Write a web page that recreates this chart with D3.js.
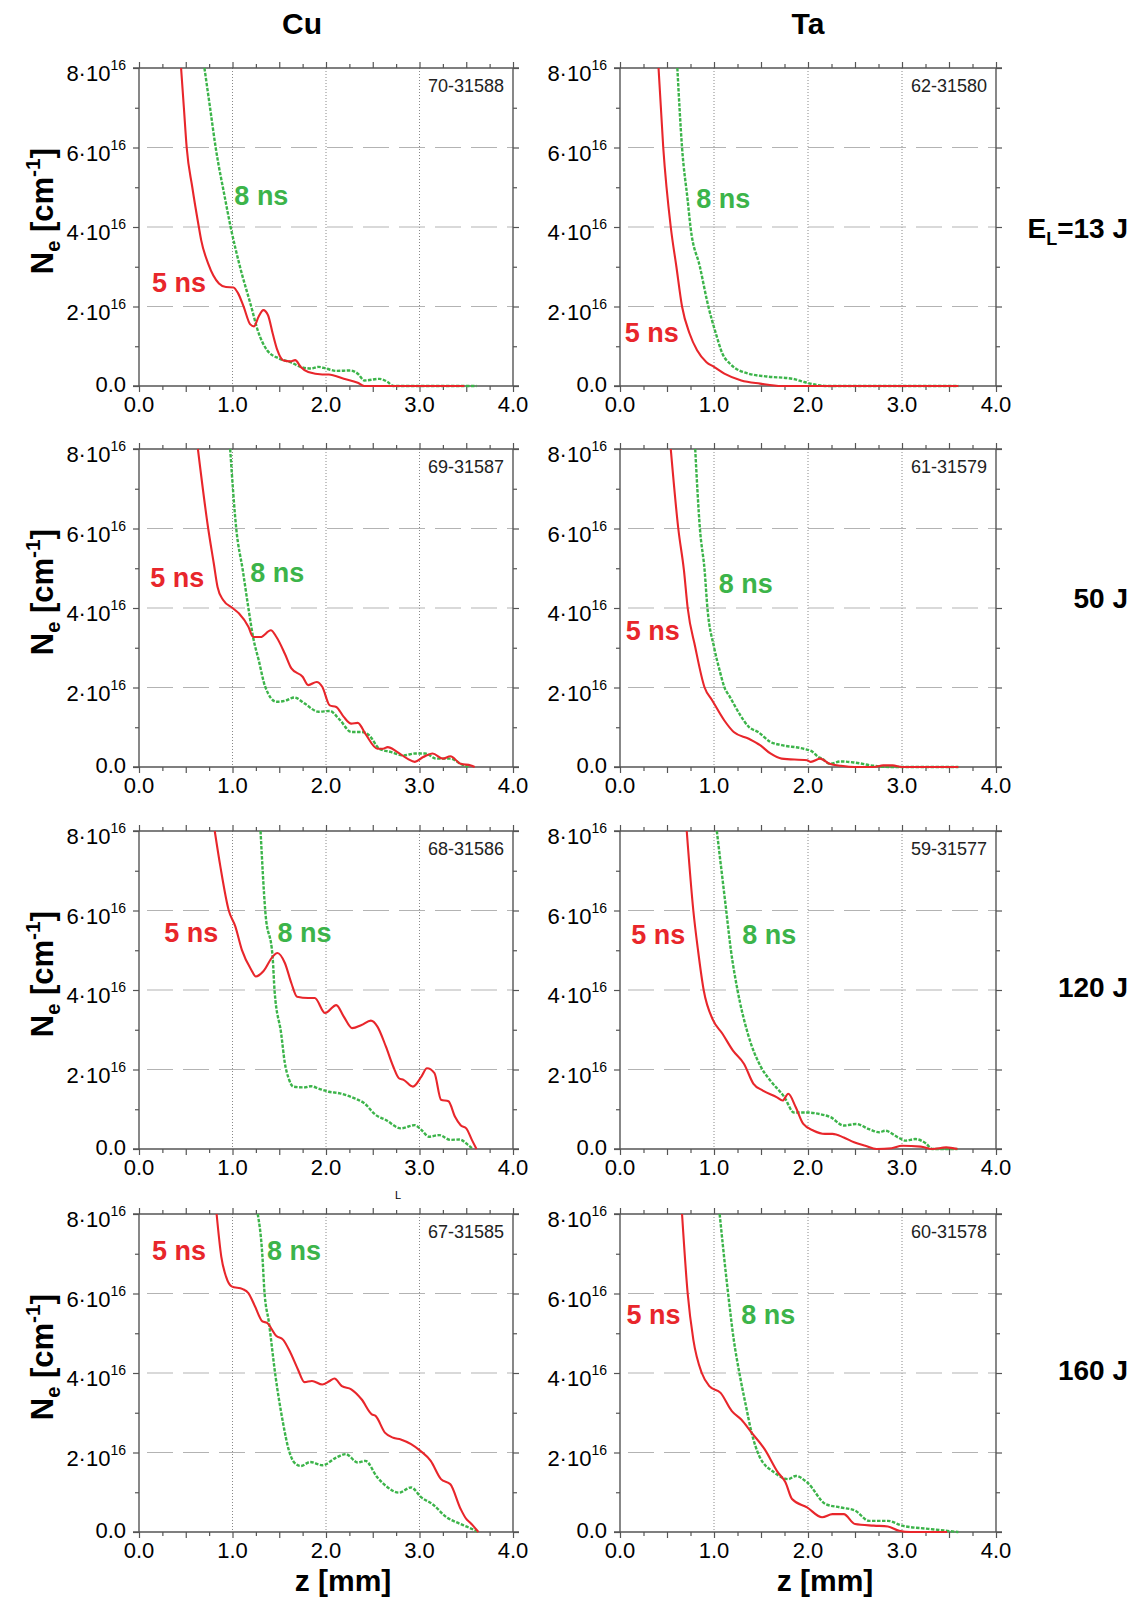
<!DOCTYPE html>
<html>
<meta charset="utf-8">
<script src="https://d3js.org/d3.v7.min.js"></script>
<style>
body { margin: 0; background: #fff; }
svg text { font-family: "Liberation Sans", Arial, sans-serif; }
.frame line { stroke: #555; stroke-width: 1.4; }
.tick line { stroke: #555; stroke-width: 1.2; }
.grid-v { stroke: #888; stroke-width: 1; stroke-dasharray: 1,2; }
.grid-h { stroke: #b3b3b3; stroke-width: 1; stroke-dasharray: 26,10; }
</style>
<body>
<script>
// electron density Ne [1e16 cm^-1] vs z [mm], pairs [z, Ne]
var cu13_5 = [[0.45,8],[0.48,7],[0.51,6],[0.57,5],[0.64,4],[0.665,3.67],[0.74,3.08],[0.855,2.58],[0.93,2.49],[1.01,2.48],[1.06,2.33],[1.12,1.99],[1.19,1.55],[1.23,1.50],[1.28,1.75],[1.33,1.91],[1.38,1.78],[1.43,1.32],[1.48,0.90],[1.54,0.65],[1.62,0.62],[1.67,0.65],[1.73,0.48],[1.81,0.35],[1.96,0.29],[2.03,0.29],[2.19,0.18],[2.34,0.08],[2.41,0],[3.48,0]];
var cu13_8 = [[0.70,8],[0.76,7],[0.82,6],[0.92,4.72],[0.98,4],[1.08,3.0],[1.20,2.0],[1.27,1.40],[1.37,0.90],[1.50,0.69],[1.62,0.60],[1.73,0.48],[1.84,0.44],[1.92,0.48],[2.00,0.44],[2.11,0.38],[2.26,0.39],[2.34,0.31],[2.41,0.14],[2.57,0.18],[2.66,0.10],[2.72,0],[3.61,0]];
var ta13_5 = [[0.41,8],[0.46,6],[0.54,4],[0.60,3],[0.66,2],[0.74,1.32],[0.82,0.9],[0.92,0.6],[1.0,0.48],[1.11,0.31],[1.29,0.14],[1.49,0.06],[1.72,0],[3.6,0]];
var ta13_8 = [[0.61,8],[0.66,6],[0.72,4.67],[0.75,4],[0.85,3.0],[0.94,2.0],[1.02,1.32],[1.09,0.81],[1.17,0.56],[1.37,0.31],[1.56,0.24],[1.84,0.18],[1.96,0.10],[2.11,0.02],[2.2,0],[3.6,0]];

var cu50_5 = [[0.63,8],[0.74,6],[0.80,5.12],[0.84,4.53],[0.90,4.2],[1.0,4.0],[1.07,3.86],[1.17,3.53],[1.22,3.27],[1.30,3.27],[1.41,3.44],[1.47,3.27],[1.56,2.85],[1.63,2.48],[1.75,2.27],[1.81,2.06],[1.90,2.14],[1.96,2.02],[2.04,1.55],[2.11,1.51],[2.19,1.26],[2.27,1.09],[2.34,1.11],[2.42,0.84],[2.55,0.46],[2.61,0.46],[2.66,0.5],[2.76,0.38],[2.87,0.21],[2.95,0.13],[3.04,0.25],[3.14,0.34],[3.25,0.21],[3.33,0.27],[3.44,0.08],[3.55,0.04],[3.59,0]];
var cu50_8 = [[0.975,8],[1.04,6],[1.11,4.95],[1.17,4.0],[1.22,3.27],[1.28,2.69],[1.35,2.02],[1.47,1.64],[1.58,1.68],[1.66,1.75],[1.77,1.6],[1.92,1.39],[2.04,1.41],[2.15,1.18],[2.27,0.88],[2.38,0.88],[2.46,0.8],[2.57,0.46],[2.69,0.38],[2.83,0.29],[2.95,0.34],[3.06,0.34],[3.18,0.21],[3.33,0.21],[3.44,0.08],[3.52,0]];
var ta50_5 = [[0.54,8],[0.62,6],[0.68,4.95],[0.72,4],[0.80,3.02],[0.90,2.0],[0.98,1.68],[1.11,1.17],[1.21,0.88],[1.37,0.71],[1.49,0.55],[1.60,0.34],[1.72,0.21],[1.99,0.17],[2.03,0.13],[2.13,0.21],[2.23,0.08],[2.35,0.03],[2.5,0],[2.7,0],[2.8,0.04],[2.9,0.04],[3.0,0],[3.6,0]];
var ta50_8 = [[0.80,8],[0.85,6],[0.90,4.95],[0.93,4],[1.0,3.02],[1.06,2.43],[1.11,2.01],[1.17,1.76],[1.27,1.34],[1.37,1.01],[1.47,0.88],[1.60,0.63],[1.72,0.55],[1.95,0.46],[2.05,0.38],[2.11,0.25],[2.15,0.21],[2.23,0.08],[2.35,0.14],[2.5,0.11],[2.7,0.03],[2.89,0],[3.6,0]];

var cu120_5 = [[0.81,8],[0.87,7.11],[0.96,6],[1.03,5.6],[1.10,5.01],[1.20,4.51],[1.25,4.34],[1.33,4.47],[1.43,4.84],[1.48,4.93],[1.56,4.68],[1.63,4.17],[1.69,3.83],[1.81,3.80],[1.88,3.80],[1.99,3.42],[2.11,3.62],[2.19,3.33],[2.28,3.04],[2.38,3.12],[2.48,3.23],[2.55,3.08],[2.64,2.58],[2.72,2.07],[2.78,1.78],[2.83,1.74],[2.93,1.57],[3.02,1.82],[3.08,2.03],[3.16,1.91],[3.23,1.24],[3.31,1.2],[3.38,0.81],[3.44,0.6],[3.50,0.52],[3.56,0.23],[3.61,0]];
var cu120_8 = [[1.30,8],[1.35,6],[1.43,4.8],[1.45,3.98],[1.52,2.91],[1.56,2.16],[1.60,1.78],[1.65,1.57],[1.77,1.55],[1.84,1.58],[1.92,1.52],[2.03,1.44],[2.15,1.4],[2.30,1.28],[2.41,1.15],[2.53,0.86],[2.64,0.73],[2.80,0.52],[2.95,0.6],[3.02,0.48],[3.10,0.31],[3.21,0.35],[3.33,0.23],[3.43,0.24],[3.52,0.1],[3.57,0]];
var ta120_5 = [[0.71,8],[0.78,6],[0.83,5.0],[0.89,4],[0.99,3.24],[1.09,2.9],[1.20,2.48],[1.32,2.14],[1.42,1.64],[1.52,1.47],[1.67,1.3],[1.73,1.22],[1.79,1.39],[1.87,1.05],[1.95,0.63],[2.06,0.46],[2.18,0.38],[2.26,0.38],[2.38,0.29],[2.49,0.17],[2.61,0.08],[2.73,0],[2.89,0.02],[3.0,0.08],[3.20,0.06],[3.32,0],[3.47,0.04],[3.59,0]];
var ta120_8 = [[1.03,8],[1.13,6],[1.18,5.0],[1.25,4],[1.36,2.9],[1.50,2.06],[1.60,1.72],[1.75,1.3],[1.85,0.92],[1.98,0.92],[2.12,0.88],[2.24,0.8],[2.38,0.59],[2.51,0.63],[2.65,0.5],[2.76,0.42],[2.82,0.46],[2.96,0.29],[3.04,0.21],[3.14,0.25],[3.26,0.13],[3.32,0],[3.59,0]];

var cu160_5 = [[0.83,8],[0.88,6.93],[0.93,6.43],[0.99,6.18],[1.11,6.11],[1.17,6.01],[1.24,5.68],[1.32,5.3],[1.37,5.26],[1.47,4.93],[1.54,4.84],[1.62,4.51],[1.70,4.09],[1.77,3.77],[1.85,3.8],[1.96,3.71],[2.04,3.8],[2.09,3.86],[2.17,3.67],[2.27,3.59],[2.38,3.34],[2.49,2.96],[2.53,2.92],[2.63,2.5],[2.72,2.37],[2.80,2.33],[2.91,2.21],[3.01,2.04],[3.12,1.79],[3.23,1.33],[3.33,1.2],[3.44,0.58],[3.50,0.33],[3.54,0.24],[3.63,0]];
var cu160_8 = [[1.27,8],[1.32,6.93],[1.34,6.1],[1.39,5.26],[1.46,3.92],[1.54,2.75],[1.60,2.08],[1.66,1.75],[1.73,1.66],[1.83,1.76],[1.96,1.68],[2.11,1.87],[2.21,1.96],[2.34,1.75],[2.42,1.79],[2.55,1.37],[2.64,1.16],[2.78,0.99],[2.91,1.12],[3.02,0.87],[3.14,0.7],[3.29,0.37],[3.40,0.24],[3.52,0.12],[3.63,0]];
var ta160_5 = [[0.66,8],[0.72,6],[0.78,4.84],[0.87,4],[0.95,3.67],[1.07,3.5],[1.19,3.04],[1.29,2.83],[1.40,2.5],[1.54,2.08],[1.68,1.5],[1.76,1.25],[1.83,0.83],[1.99,0.62],[2.15,0.37],[2.26,0.45],[2.38,0.45],[2.50,0.2],[2.70,0.16],[2.85,0.14],[2.97,0.03],[3.09,0],[3.48,0]];
var ta160_8 = [[1.06,8],[1.15,6],[1.21,4.84],[1.27,4],[1.34,3.17],[1.40,2.5],[1.48,1.92],[1.64,1.5],[1.79,1.33],[1.87,1.41],[1.99,1.25],[2.19,0.7],[2.34,0.62],[2.50,0.54],[2.65,0.28],[2.85,0.28],[3.0,0.16],[3.28,0.08],[3.60,0]];

var metals = ["Cu", "Ta"];
var energies = ["13 J", "50 J", "120 J", "160 J"];
var shotIds = [["70-31588", "62-31580"], ["69-31587", "61-31579"], ["68-31586", "59-31577"], ["67-31585", "60-31578"]];
var series5 = [[cu13_5, ta13_5], [cu50_5, ta50_5], [cu120_5, ta120_5], [cu160_5, ta160_5]];
var series8 = [[cu13_8, ta13_8], [cu50_8, ta50_8], [cu120_8, ta120_8], [cu160_8, ta160_8]];
var seriesNames = ["5 ns", "8 ns"];
// where the "5 ns" / "8 ns" labels sit, in data units [z, Ne]
var label5 = [[[0.14,2.36],[0.05,1.11]], [[0.12,4.53],[0.06,3.2]], [[0.27,5.21],[0.12,5.16]], [[0.14,6.84],[0.07,5.23]]];
var label8 = [[[1.02,4.55],[0.81,4.48]], [[1.19,4.65],[1.05,4.38]], [[1.48,5.21],[1.30,5.16]], [[1.37,6.84],[1.29,5.23]]];

var xLabelTicks = [0, 1, 2, 3, 4];
var xMajorTicks = [0, 0.5, 1, 1.5, 2, 2.5, 3, 3.5, 4];
var xMinorTicks = [0.25, 0.75, 1.25, 1.75, 2.25, 2.75, 3.25, 3.75];
var yLabelTicks = [0, 2, 4, 6, 8];
var yMinorTicks = [1, 3, 5, 7];
var xGrid = [1, 2, 3];
var yGrid = [2, 4, 6];

// layout
var colLeft = [139, 620], colWidth = [374, 376];
var rowTop = [68, 449, 831, 1214], plotH = 318;
var titleX = [302, 808];
var rowLabelDy = [170, 159, 166, 166];
var red = "#e8262b", green = "#3cb44a";

var svg = d3.select("body").append("svg")
    .attr("width", 1138)
    .attr("height", 1602);

var line = d3.line()
    .curve(d3.curveMonotoneX);

// column titles
metals.forEach(function(m, c) {
  svg.append("text")
    .attr("x", titleX[c]).attr("y", 34)
    .attr("text-anchor", "middle")
    .attr("font-size", "30px").attr("font-weight", "bold")
    .text(m);
});

energies.forEach(function(en, r) {
  var top = rowTop[r];

  // y axis title
  var yl = svg.append("text")
    .attr("transform", "translate(53," + (top + 143) + ") rotate(-90)")
    .attr("text-anchor", "middle")
    .attr("font-size", "31px").attr("font-weight", "bold");
  yl.append("tspan").text("N");
  yl.append("tspan").attr("font-size", "20px").attr("dy", 7).text("e");
  yl.append("tspan").attr("dy", -7).text(" [cm");
  yl.append("tspan").attr("font-size", "21px").attr("dy", -13).text("-1");
  yl.append("tspan").attr("dy", 13).text("]");

  // energy label on the right
  var el = svg.append("text")
    .attr("x", 1128).attr("y", top + rowLabelDy[r])
    .attr("text-anchor", "end")
    .attr("font-size", "28px").attr("font-weight", "bold");
  if (r == 0) {
    el.append("tspan").text("E");
    el.append("tspan").attr("font-size", "18px").attr("dy", 7).text("L");
    el.append("tspan").attr("dy", -7).text("=" + en);
  } else {
    el.text(en);
  }

  metals.forEach(function(m, c) {
    var w = colWidth[c];
    var x = d3.scaleLinear().domain([0, 4]).range([0, w]);
    var y = d3.scaleLinear().domain([0, 8]).range([plotH, 0]);
    line.x(function(d) { return x(d[0]); }).y(function(d) { return y(d[1]); });

    var g = svg.append("g").attr("transform", "translate(" + colLeft[c] + "," + top + ")");

    // grid lines
    g.selectAll(".grid-v").data(xGrid).enter().append("line")
      .attr("class", "grid-v")
      .attr("x1", function(d) { return x(d); }).attr("x2", function(d) { return x(d); })
      .attr("y1", 0).attr("y2", plotH);
    g.selectAll(".grid-h").data(yGrid).enter().append("line")
      .attr("class", "grid-h")
      .attr("x1", 8).attr("x2", w)
      .attr("y1", function(d) { return y(d); }).attr("y2", function(d) { return y(d); });

    // ticks on all four sides
    g.append("g").attr("transform", "translate(0," + plotH + ")")
      .call(d3.axisBottom(x).tickValues(xMajorTicks).tickSize(6).tickFormat(""));
    g.append("g").attr("transform", "translate(0," + plotH + ")")
      .call(d3.axisBottom(x).tickValues(xMinorTicks).tickSize(4).tickFormat(""));
    g.append("g").call(d3.axisTop(x).tickValues(xMajorTicks).tickSize(6).tickFormat(""));
    g.append("g").call(d3.axisTop(x).tickValues(xMinorTicks).tickSize(4).tickFormat(""));
    g.append("g").call(d3.axisLeft(y).tickValues(yLabelTicks).tickSize(6).tickFormat(""));
    g.append("g").call(d3.axisLeft(y).tickValues(yMinorTicks).tickSize(4).tickFormat(""));
    g.append("g").attr("transform", "translate(" + w + ",0)")
      .call(d3.axisRight(y).tickValues(yLabelTicks).tickSize(6).tickFormat(""));
    g.append("g").attr("transform", "translate(" + w + ",0)")
      .call(d3.axisRight(y).tickValues(yMinorTicks).tickSize(4).tickFormat(""));
    g.selectAll(".domain").remove();

    // frame, slightly overhanging the corners
    var fr = g.append("g").attr("class", "frame");
    fr.append("line").attr("x1", -6).attr("x2", w + 6).attr("y1", 0).attr("y2", 0);
    fr.append("line").attr("x1", -6).attr("x2", w + 6).attr("y1", plotH).attr("y2", plotH);
    fr.append("line").attr("x1", 0).attr("x2", 0).attr("y1", 0).attr("y2", plotH);
    fr.append("line").attr("x1", w).attr("x2", w).attr("y1", 0).attr("y2", plotH);

    // x tick labels
    g.selectAll(".xl").data(xLabelTicks).enter().append("text")
      .attr("x", function(d) { return x(d); })
      .attr("y", plotH + 26)
      .attr("text-anchor", "middle")
      .attr("font-size", "22px")
      .text(function(d) { return d3.format(".1f")(d); });

    // y tick labels  N·10^16
    g.selectAll(".yl").data(yLabelTicks).enter().append("text")
      .attr("x", -13)
      .attr("y", function(d) { return y(d) + (d == 0 ? 6 : 13); })
      .attr("text-anchor", "end")
      .attr("font-size", "22px")
      .each(function(d) {
        var t = d3.select(this);
        if (d == 0) { t.text("0.0"); return; }
        t.append("tspan").text(d + "\u00b710");
        t.append("tspan").attr("font-size", "14px").attr("dy", -11).text("16");
      });

    // shot id
    g.append("text")
      .attr("x", w - 9).attr("y", 24)
      .attr("text-anchor", "end")
      .attr("font-size", "18px")
      .attr("fill", "#222")
      .text(shotIds[r][c]);

    // curves
    g.append("path").datum(series8[r][c])
      .attr("fill", "none")
      .attr("stroke", green)
      .attr("stroke-width", 2.4)
      .attr("stroke-dasharray", "3.5,1.5")
      .attr("d", line);
    g.append("path").datum(series5[r][c])
      .attr("fill", "none")
      .attr("stroke", red)
      .attr("stroke-width", 2.1)
      .attr("d", line);

    // series labels
    g.append("text")
      .attr("x", x(label5[r][c][0])).attr("y", y(label5[r][c][1]))
      .attr("font-size", "27px").attr("font-weight", "bold")
      .attr("fill", red)
      .text(seriesNames[0]);
    g.append("text")
      .attr("x", x(label8[r][c][0])).attr("y", y(label8[r][c][1]))
      .attr("font-size", "27px").attr("font-weight", "bold")
      .attr("fill", green)
      .text(seriesNames[1]);

    // x axis title under the last row
    if (r == energies.length - 1) {
      svg.append("text")
        .attr("x", colLeft[c] + w / 2 + 17).attr("y", 1591)
        .attr("text-anchor", "middle")
        .attr("font-size", "30px").attr("font-weight", "bold")
        .text("z [mm]");
    }
  });
});

// stray subscript glyph present in the original figure
svg.append("text")
  .attr("x", 398).attr("y", 1199)
  .attr("text-anchor", "middle")
  .attr("font-size", "11px")
  .text("L");
</script>
</body>
</html>
